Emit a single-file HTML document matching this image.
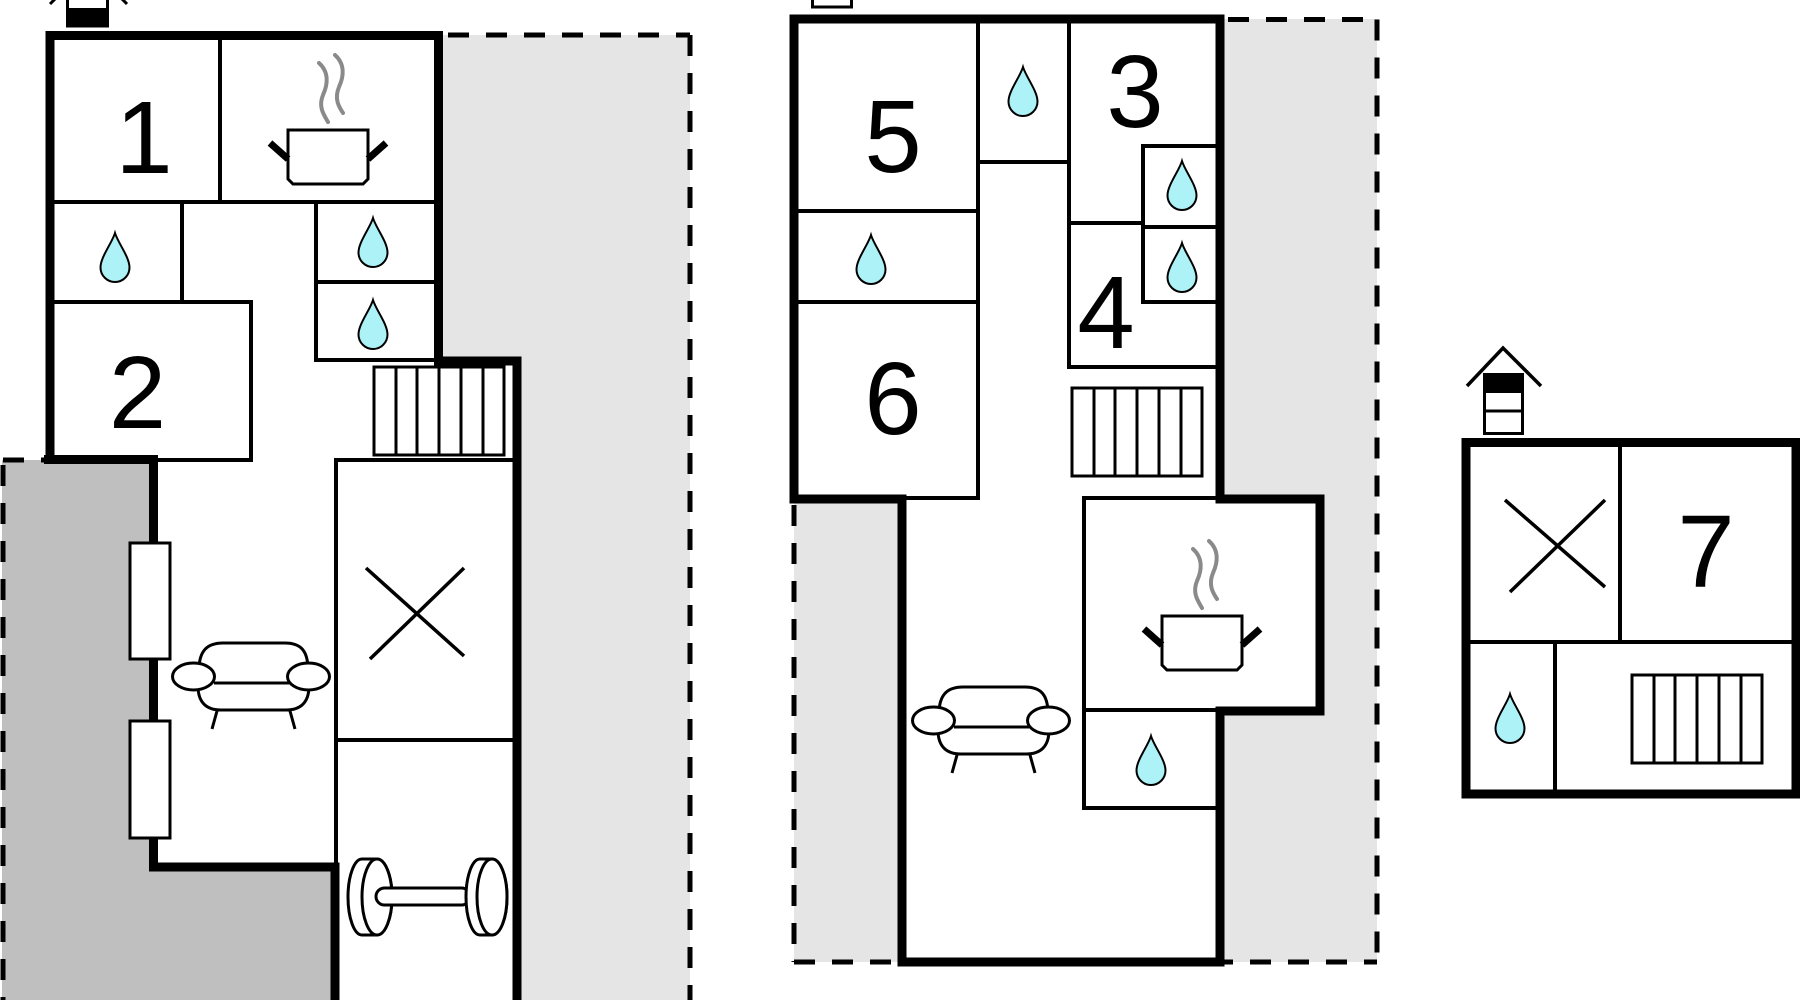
<!DOCTYPE html>
<html>
<head>
<meta charset="utf-8">
<style>
html,body{margin:0;padding:0;background:#fff;}
svg{display:block;}
text{font-family:"Liberation Sans",Arial,sans-serif;font-size:103px;fill:#000;}
</style>
</head>
<body>
<svg width="1800" height="1000" viewBox="0 0 1800 1000" xmlns="http://www.w3.org/2000/svg">
<defs>
  <path id="drop" d="M0,0 C3,10 14.5,24 14.5,34.5 A14.5,14.5 0 0 1 -14.5,34.5 C-14.5,24 -3,10 0,0 Z" fill="#acf2f7" stroke="#000" stroke-width="2"/>
  <g id="sofa" fill="#fff" stroke="#000" stroke-width="3">
    <path d="M199,670 C199,651 207,643 223,643 L285,643 C301,643 308,651 308,670"/>
    <path d="M198,686 C198,703 207,710 221,710 L286,710 C300,710 309,703 309,686"/>
    <line x1="214" y1="683" x2="289" y2="683"/>
    <ellipse cx="193.5" cy="676.5" rx="21" ry="13.5"/>
    <ellipse cx="308.5" cy="676.5" rx="21" ry="13.5"/>
    <line x1="217" y1="711" x2="212" y2="729"/>
    <line x1="290" y1="711" x2="295" y2="729"/>
  </g>
  <g id="pot">
    <path d="M288,130 H368 V179 L363,184 H293 L288,179 Z" fill="#fff" stroke="#000" stroke-width="3"/>
    <line x1="270" y1="143" x2="288" y2="159" stroke="#000" stroke-width="7"/>
    <line x1="368" y1="159" x2="386" y2="143" stroke="#000" stroke-width="7"/>
    <path d="M319,63 C329,72 328,84 323,95 C318,107 324,115 328,122" fill="none" stroke="#8a8a8a" stroke-width="4" stroke-linecap="round"/>
    <path d="M335,55 C345,64 344,76 339,87 C334,99 339,107 343,113" fill="none" stroke="#8a8a8a" stroke-width="4" stroke-linecap="round"/>
  </g>
  <g id="stair" fill="none" stroke="#000" stroke-width="3">
    <rect x="0" y="0" width="130" height="88" fill="#fff"/>
    <line x1="22" y1="0" x2="22" y2="88"/>
    <line x1="43" y1="0" x2="43" y2="88"/>
    <line x1="65" y1="0" x2="65" y2="88"/>
    <line x1="87" y1="0" x2="87" y2="88"/>
    <line x1="109" y1="0" x2="109" y2="88"/>
  </g>
</defs>

<!-- ================= LEFT BUILDING ================= -->
<rect x="438" y="35" width="252" height="965" fill="#e5e5e5"/>
<g stroke="#000" stroke-width="5" stroke-dasharray="21 17" fill="none">
  <line x1="448" y1="35" x2="690" y2="35"/>
  <line x1="690" y1="35" x2="690" y2="1000"/>
</g>
<polygon points="2,460 153,460 153,867 335,867 335,1000 2,1000" fill="#bfbfbf"/>
<g stroke="#000" stroke-width="5" stroke-dasharray="21 17" fill="none">
  <line x1="3" y1="465" x2="3" y2="1000"/>
  <line x1="3" y1="460" x2="46" y2="460"/>
</g>
<polygon points="50,35 438,35 438,361 517,361 517,1000 335,1000 335,867 153,867 153,459 50,459" fill="#fff"/>

<!-- house icon top-left -->
<rect x="67.5" y="-5" width="40" height="31" fill="#fff" stroke="#000" stroke-width="3"/>
<rect x="66" y="8" width="43" height="19" fill="#000"/>
<line x1="50" y1="4" x2="57" y2="-3" stroke="#000" stroke-width="3"/>
<line x1="127" y1="4" x2="120" y2="-3" stroke="#000" stroke-width="3"/>

<!-- thin interior walls -->
<g stroke="#000" stroke-width="4" fill="none">
  <line x1="220" y1="35" x2="220" y2="202"/>
  <line x1="50" y1="202" x2="438" y2="202"/>
  <line x1="182" y1="202" x2="182" y2="302"/>
  <line x1="50" y1="302" x2="253" y2="302"/>
  <line x1="251" y1="302" x2="251" y2="462"/>
  <line x1="153" y1="460" x2="253" y2="460"/>
  <line x1="316" y1="200" x2="316" y2="362"/>
  <line x1="316" y1="282" x2="438" y2="282"/>
  <line x1="316" y1="360" x2="438" y2="360"/>
  <line x1="336" y1="460" x2="336" y2="870"/>
  <line x1="334" y1="460" x2="517" y2="460"/>
  <line x1="336" y1="740" x2="517" y2="740"/>
</g>
<use href="#stair" x="374" y="367"/>

<!-- thick outer walls -->
<g stroke="#000" stroke-width="9" fill="none" stroke-linejoin="miter">
  <path d="M44,459.5 L153.5,459.5 L153.5,867 L335,867 L335,1004"/>
  <path d="M50,459.5 L50,35.5 L438.5,35.5 L438.5,361 L517,361 L517,1004"/>
</g>
<!-- windows -->
<g fill="#fff" stroke="#000" stroke-width="3">
  <rect x="130" y="543" width="40" height="116"/>
  <rect x="130" y="721" width="40" height="117"/>
</g>

<!-- X -->
<g stroke="#000" stroke-width="3.5">
  <line x1="366" y1="568" x2="464" y2="656"/>
  <line x1="370" y1="659" x2="464" y2="568"/>
</g>

<!-- dumbbell -->
<g fill="#fff" stroke="#000" stroke-width="3">
  <path d="M362,859 L377,859 A15,38 0 0 1 377,935 L362,935 A14,38 0 0 1 362,859 Z"/>
  <ellipse cx="377" cy="897" rx="15" ry="38"/>
  <rect x="376" y="888" width="94" height="17" rx="8.5"/>
  <path d="M480,859 L492,859 A15,38 0 0 1 492,935 L480,935 A14,38 0 0 1 480,859 Z"/>
  <ellipse cx="492" cy="897" rx="15" ry="38"/>
</g>

<use href="#sofa"/>
<use href="#pot"/>
<use href="#drop" x="115" y="233"/>
<use href="#drop" x="373" y="218"/>
<use href="#drop" x="373" y="300"/>
<text x="144" y="173" text-anchor="middle">1</text>
<text x="137.5" y="428" text-anchor="middle">2</text>

<!-- ================= MIDDLE BUILDING ================= -->
<rect x="794" y="19" width="583" height="943" fill="#e5e5e5"/>
<g stroke="#000" stroke-width="5" stroke-dasharray="21 17" fill="none">
  <line x1="1228" y1="19.5" x2="1377" y2="19.5"/>
  <line x1="1377" y1="19.5" x2="1377" y2="962"/>
  <line x1="794" y1="962" x2="1377" y2="962"/>
  <line x1="794" y1="505" x2="794" y2="962"/>
</g>
<polygon points="794,19 1220,19 1220,499 1320,499 1320,711 1220,711 1220,962 902,962 902,499 794,499" fill="#fff"/>

<!-- small icon top middle -->
<rect x="812.5" y="-5" width="39" height="12" fill="#fff" stroke="#000" stroke-width="3"/>

<g stroke="#000" stroke-width="4" fill="none">
  <line x1="978" y1="19" x2="978" y2="500"/>
  <line x1="794" y1="211" x2="978" y2="211"/>
  <line x1="794" y1="302" x2="978" y2="302"/>
  <line x1="902" y1="498" x2="980" y2="498"/>
  <line x1="978" y1="162" x2="1069" y2="162"/>
  <line x1="1069" y1="19" x2="1069" y2="369"/>
  <line x1="1069" y1="223" x2="1143" y2="223"/>
  <line x1="1143" y1="145" x2="1143" y2="304"/>
  <line x1="1141" y1="146" x2="1220" y2="146"/>
  <line x1="1143" y1="227" x2="1220" y2="227"/>
  <line x1="1141" y1="302" x2="1220" y2="302"/>
  <line x1="1067" y1="367" x2="1220" y2="367"/>
  <line x1="1084" y1="496" x2="1084" y2="810"/>
  <line x1="1082" y1="498" x2="1220" y2="498"/>
  <line x1="1084" y1="710" x2="1220" y2="710"/>
  <line x1="1082" y1="808" x2="1220" y2="808"/>
</g>
<use href="#stair" x="1072" y="388"/>

<path d="M794,499 L794,19 L1220,19 L1220,499 L1320,499 L1320,711 L1220,711 L1220,962 L902,962 L902,499 Z" fill="none" stroke="#000" stroke-width="9" stroke-linejoin="miter"/>

<use href="#sofa" x="740" y="44"/>
<use href="#pot" x="874" y="486"/>
<use href="#drop" x="1023" y="67"/>
<use href="#drop" x="1182" y="161"/>
<use href="#drop" x="1182" y="243"/>
<use href="#drop" x="871" y="235"/>
<use href="#drop" x="1151" y="736"/>
<text x="893" y="172" text-anchor="middle">5</text>
<text x="893" y="434" text-anchor="middle">6</text>
<text x="1135" y="127" text-anchor="middle">3</text>
<text x="1106" y="348" text-anchor="middle">4</text>

<!-- ================= RIGHT BUILDING ================= -->
<polyline points="1467,386 1503,348 1541,386" fill="none" stroke="#000" stroke-width="3.5"/>
<rect x="1484.5" y="374.5" width="38" height="59" fill="#fff" stroke="#000" stroke-width="3"/>
<rect x="1483" y="373" width="41" height="20" fill="#000"/>
<line x1="1484" y1="411" x2="1523" y2="411" stroke="#000" stroke-width="3"/>

<rect x="1466" y="442.5" width="330" height="351.5" fill="#fff" stroke="#000" stroke-width="9"/>
<g stroke="#000" stroke-width="4" fill="none">
  <line x1="1620" y1="442" x2="1620" y2="644"/>
  <line x1="1466" y1="642" x2="1796" y2="642"/>
  <line x1="1555" y1="642" x2="1555" y2="794"/>
</g>
<g stroke="#000" stroke-width="3.5">
  <line x1="1505" y1="500" x2="1605" y2="587"/>
  <line x1="1510" y1="592" x2="1605" y2="500"/>
</g>
<use href="#stair" x="1632" y="675"/>
<use href="#drop" x="1510" y="694"/>
<text x="1706" y="587" text-anchor="middle">7</text>
</svg>
</body>
</html>
